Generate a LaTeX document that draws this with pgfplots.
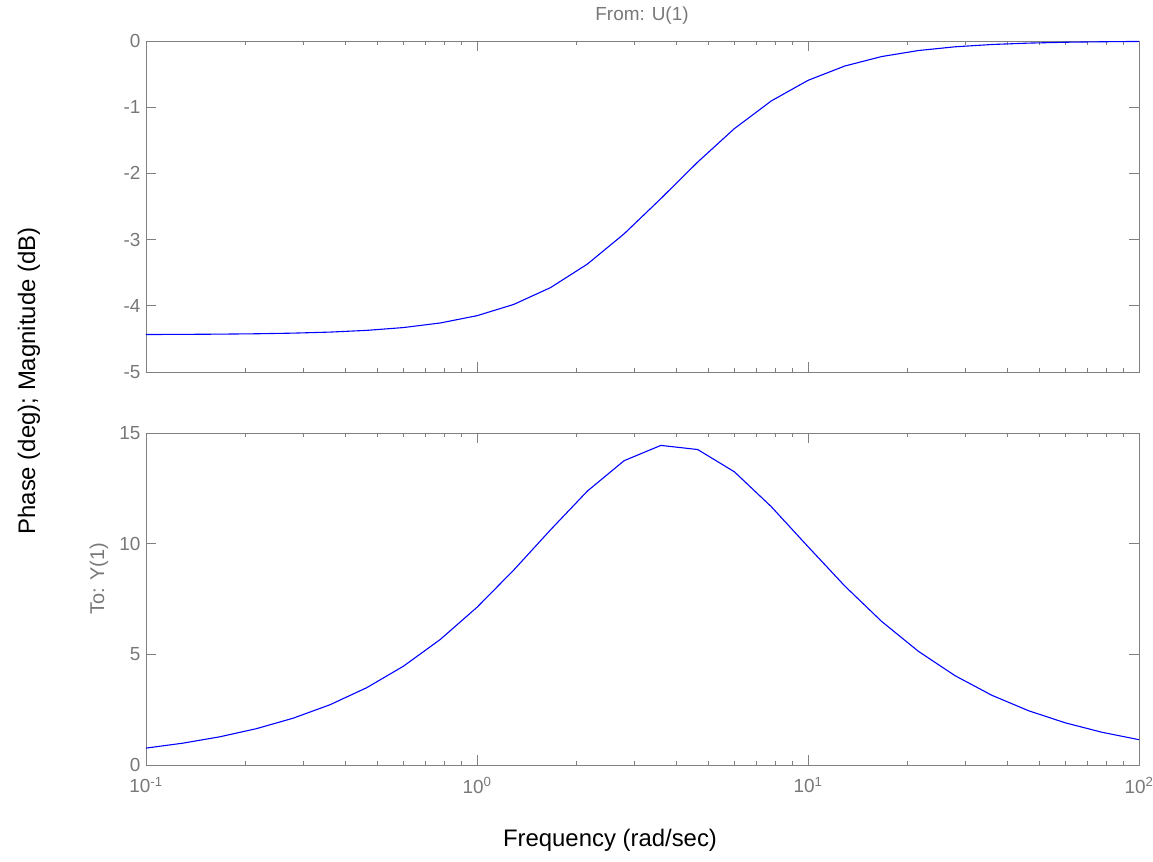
\documentclass[border=0pt]{standalone}
\usepackage{pgfplots}
\pgfplotsset{compat=1.18}
\usepackage{pgfplotstable}
\usepackage{fontspec}
\setmainfont{Liberation Sans}
\definecolor{axgray}{RGB}{128,128,128}
\definecolor{lblgray}{RGB}{120,120,120}
\pgfplotstableread{
w mag phase
0.1 -4.4339 0.7634
0.12915 -4.4318 0.9854
0.16681 -4.4284 1.2717
0.21544 -4.4227 1.6403
0.27826 -4.4132 2.1138
0.35938 -4.3975 2.7200
0.46416 -4.3715 3.4910
0.59948 -4.3289 4.4636
0.77426 -4.2598 5.6690
1.0 -4.1497 7.1250
1.29155 -3.9791 8.8090
1.6681 -3.7254 10.626
2.1544 -3.3703 12.373
2.7826 -2.9129 13.749
3.5938 -2.3807 14.439
4.6416 -1.8294 14.253
5.9948 -1.3227 13.245
7.7426 -0.9063 11.674
10.0 -0.5948 9.866
12.915 -0.3783 8.087
16.681 -0.2354 6.490
21.544 -0.1444 5.138
27.826 -0.0878 4.033
35.938 -0.0531 3.149
46.416 -0.0320 2.450
59.948 -0.0192 1.903
77.426 -0.0116 1.476
100 -0.0069 1.144
}\datatable
\begin{document}
\begin{tikzpicture}[x=1bp,y=1bp]
\path[use as bounding box] (0,0) rectangle (1153,862);
\begin{semilogxaxis}[
  scale only axis, width=993bp, height=331bp,
  at={(146bp,490bp)}, anchor=south west,
  xmin=0.1, xmax=100,
  xtick={0.1,1,10,100},
  minor xtick={0.2,0.3,0.4,0.5,0.6,0.7,0.8,0.9,2,3,4,5,6,7,8,9,20,30,40,50,60,70,80,90},
  axis line style={axgray, line width=0.9bp},
  every tick/.style={axgray, line width=0.9bp},
  major tick length=10bp, minor tick length=4bp, tick align=inside,
  ticklabel style={font=\fontsize{19}{19}\selectfont, text=lblgray},
  yticklabel style={xshift=-2bp},
  ymin=-5, ymax=0, ytick={-5,-4,-3,-2,-1,0},
  yticklabels={-5,-4,-3,-2,-1,0},
  xticklabels={}]
\addplot[blue, line width=1.1bp, mark=none] table[x=w, y=mag] {\datatable};
\end{semilogxaxis}
\begin{semilogxaxis}[
  scale only axis, width=993bp, height=332bp,
  at={(146bp,97bp)}, anchor=south west,
  xmin=0.1, xmax=100,
  xtick={0.1,1,10,100},
  minor xtick={0.2,0.3,0.4,0.5,0.6,0.7,0.8,0.9,2,3,4,5,6,7,8,9,20,30,40,50,60,70,80,90},
  axis line style={axgray, line width=0.9bp},
  every tick/.style={axgray, line width=0.9bp},
  major tick length=10bp, minor tick length=4bp, tick align=inside,
  ticklabel style={font=\fontsize{19}{19}\selectfont, text=lblgray},
  yticklabel style={xshift=-2bp},
  xticklabel style={yshift=-9bp},
  ymin=0, ymax=15, ytick={0,5,10,15},
  yticklabels={0,5,10,15},
  xticklabels={10\textsuperscript{-1},10\textsuperscript{0},10\textsuperscript{1},10\textsuperscript{2}}]
\addplot[blue, line width=1.1bp, mark=none] table[x=w, y=phase] {\datatable};
\end{semilogxaxis}
\node[text=lblgray, font=\fontsize{19}{19}\selectfont] at (642,846) {From: U(1)};
\node[text=lblgray, font=\fontsize{20}{20}\selectfont, rotate=90] at (99,283) {To: Y(1)};
\node[font=\fontsize{24}{24}\selectfont] at (610,22) {Frequency (rad/sec)};
\node[font=\fontsize{24}{24}\selectfont, rotate=90] at (29,481) {Phase (deg); Magnitude (dB)};
\end{tikzpicture}
\end{document}
